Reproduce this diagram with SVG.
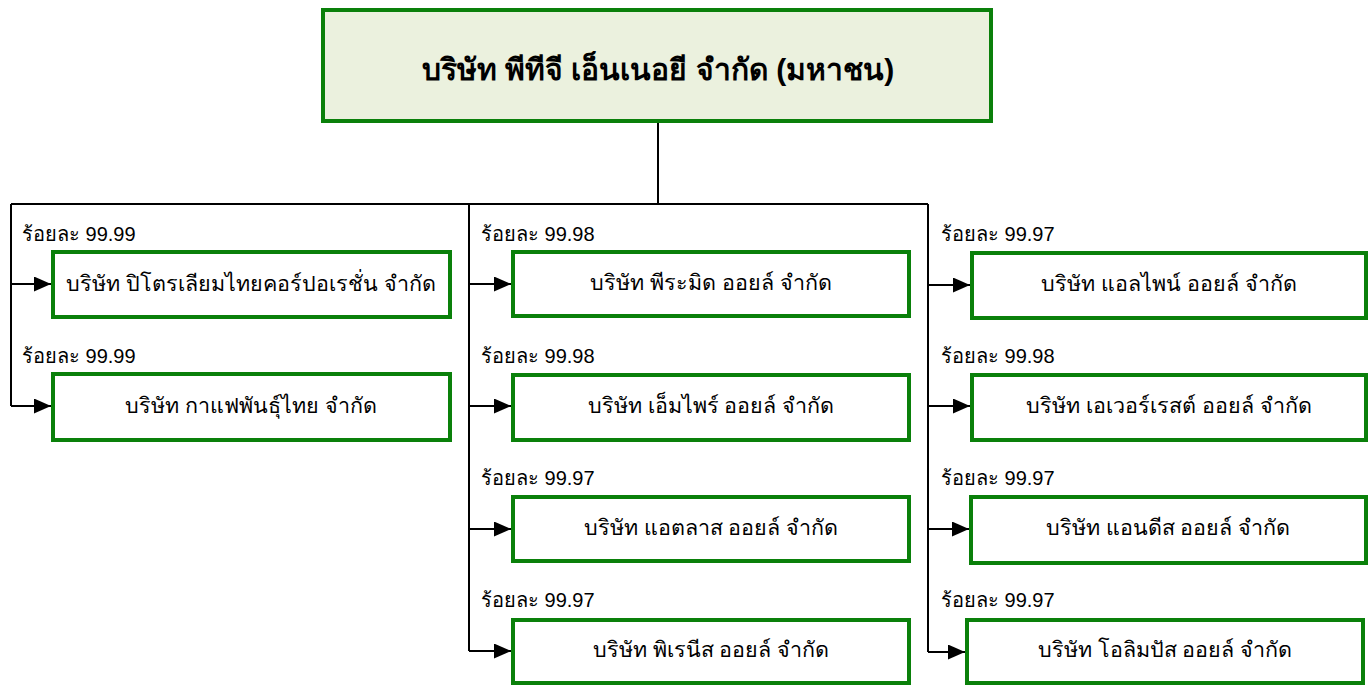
<svg xmlns="http://www.w3.org/2000/svg" width="1372" height="686" viewBox="0 0 1372 686">
<style>
.box{fill:#ffffff;stroke:#0a800a;stroke-width:4}
.top{fill:#ebf1de;stroke:#0a800a;stroke-width:4}
.t{font-family:"Liberation Sans","DejaVu Sans",sans-serif;font-size:21.5px;fill:#000;text-anchor:middle}
.tt{font-family:"Liberation Sans","DejaVu Sans",sans-serif;font-size:30px;font-weight:bold;fill:#000;text-anchor:middle}
.p{font-family:"Liberation Sans","DejaVu Sans",sans-serif;font-size:20px;fill:#000}
.c{fill:none;stroke:#000;stroke-width:2}
</style>
<defs>
<marker id="ar" markerWidth="17" markerHeight="15" refX="17" refY="7.5" orient="auto" markerUnits="userSpaceOnUse">
<path d="M0,0 L17,7.5 L0,15 Z" fill="#000"/>
</marker>
</defs>
<g id="connectors">
<path class="c" d="M658,123 V204 M11,204 H928 M11,204 V406 M469,204 V651 M928,204 V652"/>
<path class="c" d="M11,284 H51" marker-end="url(#ar)"/>
<path class="c" d="M11,406 H51" marker-end="url(#ar)"/>
<path class="c" d="M469,284 H511" marker-end="url(#ar)"/>
<path class="c" d="M469,406 H511" marker-end="url(#ar)"/>
<path class="c" d="M469,529 H511" marker-end="url(#ar)"/>
<path class="c" d="M469,651 H511" marker-end="url(#ar)"/>
<path class="c" d="M928,285 H970" marker-end="url(#ar)"/>
<path class="c" d="M928,406 H970" marker-end="url(#ar)"/>
<path class="c" d="M928,529 H969" marker-end="url(#ar)"/>
<path class="c" d="M928,652 H965" marker-end="url(#ar)"/>
</g>
<g id="ptt">
<rect class="top" x="323" y="10" width="668" height="111"/>
<text class="tt" x="658" y="80">บริษัท พีทีจี เอ็นเนอยี จำกัด (มหาชน)</text>
</g>
<g id="n1">
<text class="p" x="22" y="241">ร้อยละ 99.99</text>
<rect class="box" x="53" y="252" width="397" height="65"/>
<text class="t" x="251" y="291">บริษัท ปิโตรเลียมไทยคอร์ปอเรชั่น จำกัด</text>
</g>
<g id="n2">
<text class="p" x="22" y="363">ร้อยละ 99.99</text>
<rect class="box" x="53" y="374" width="397" height="66"/>
<text class="t" x="251" y="413">บริษัท กาแฟพันธุ์ไทย จำกัด</text>
</g>
<g id="n3">
<text class="p" x="481" y="241">ร้อยละ 99.98</text>
<rect class="box" x="513" y="252" width="396" height="64"/>
<text class="t" x="711" y="290">บริษัท พีระมิด ออยล์ จำกัด</text>
</g>
<g id="n4">
<text class="p" x="481" y="363">ร้อยละ 99.98</text>
<rect class="box" x="513" y="375" width="396" height="65"/>
<text class="t" x="711" y="413">บริษัท เอ็มไพร์ ออยล์ จำกัด</text>
</g>
<g id="n5">
<text class="p" x="481" y="485">ร้อยละ 99.97</text>
<rect class="box" x="513" y="497" width="396" height="64"/>
<text class="t" x="711" y="535">บริษัท แอตลาส ออยล์ จำกัด</text>
</g>
<g id="n6">
<text class="p" x="481" y="607">ร้อยละ 99.97</text>
<rect class="box" x="513" y="620" width="396" height="63"/>
<text class="t" x="711" y="657">บริษัท พิเรนีส ออยล์ จำกัด</text>
</g>
<g id="n7">
<text class="p" x="941" y="241">ร้อยละ 99.97</text>
<rect class="box" x="972" y="253" width="394" height="65"/>
<text class="t" x="1169" y="291">บริษัท แอลไพน์ ออยล์ จำกัด</text>
</g>
<g id="n8">
<text class="p" x="941" y="363">ร้อยละ 99.98</text>
<rect class="box" x="972" y="375" width="394" height="65"/>
<text class="t" x="1169" y="413">บริษัท เอเวอร์เรสต์ ออยล์ จำกัด</text>
</g>
<g id="n9">
<text class="p" x="941" y="485">ร้อยละ 99.97</text>
<rect class="box" x="971" y="497" width="395" height="66"/>
<text class="t" x="1168" y="535">บริษัท แอนดีส ออยล์ จำกัด</text>
</g>
<g id="n10">
<text class="p" x="941" y="607">ร้อยละ 99.97</text>
<rect class="box" x="967" y="620" width="396" height="63"/>
<text class="t" x="1165" y="657">บริษัท โอลิมปัส ออยล์ จำกัด</text>
</g>
</svg>
